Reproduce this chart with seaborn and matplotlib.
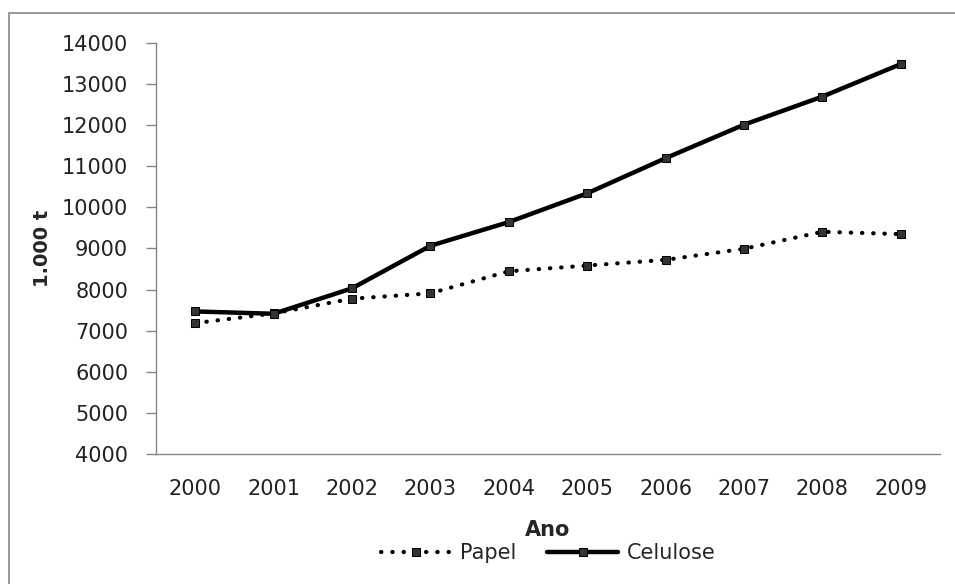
import matplotlib
matplotlib.use("Agg")
import matplotlib.pyplot as plt
import matplotlib.patches as mpatches
import seaborn as sns
import pandas as pd
import numpy as np

# data (1.000 t)
anos = ["2000", "2001", "2002", "2003", "2004", "2005", "2006", "2007", "2008", "2009"]
papel = [7185, 7420, 7779, 7909, 8446, 8585, 8724, 8993, 9408, 9350]
celulose = [7469, 7412, 8031, 9066, 9643, 10343, 11198, 12012, 12696, 13487]
yticks = list(range(4000, 14001, 1000))

df = pd.DataFrame({"Ano": anos, "Papel": papel, "Celulose": celulose})

sns.set_style("white")
plt.rcParams["font.family"] = ["DejaVu Sans"]
plt.rcParams["font.size"] = 15

fig = plt.figure(figsize=(9.55, 5.84), dpi=100)
ax = fig.add_axes([156 / 955, 1 - 454 / 584, 784 / 955, 411 / 584])

# outer chart border
fig.patches.append(mpatches.Rectangle((9 / 955, -1), 2, 1 - 13 / 584 + 1,
                                      transform=fig.transFigure, fill=False,
                                      edgecolor="#868686", linewidth=1.2))

sns.lineplot(data=df, x="Ano", y="Papel", ax=ax, color="black", linewidth=3,
             linestyle=(0, (0.1, 2.6)), dash_capstyle="round", marker="s",
             markersize=6, markerfacecolor="#333333", markeredgecolor="black",
             label="Papel")
ax.lines[-1].set_dash_capstyle("round")
sns.lineplot(data=df, x="Ano", y="Celulose", ax=ax, color="black", linewidth=3.2,
             marker="s", markersize=6, markerfacecolor="#333333",
             markeredgecolor="black", label="Celulose")

ax.set_xlim(-0.5, len(anos) - 0.5)
ax.set_ylim(4000, 14000)
ax.set_yticks(yticks)
ax.set_xticks(range(len(anos)))
ax.set_xticklabels(anos)
ax.set_xticks(np.arange(-0.5, len(anos)), minor=True)
ax.tick_params(axis="x", which="major", length=0, pad=18, labelsize=15, colors="#222222")
ax.tick_params(axis="x", which="minor", length=7, width=1, color="#868686", direction="out")
ax.tick_params(axis="y", length=7, width=1, color="#868686", direction="out",
               pad=13, labelsize=15, labelcolor="#222222", left=True)

for s in ["top", "right"]:
    ax.spines[s].set_visible(False)
for s in ["left", "bottom"]:
    ax.spines[s].set_color("#868686")
    ax.spines[s].set_linewidth(1)

ax.set_xlabel("Ano", fontsize=15, fontweight="bold")
ax.set_ylabel("1.000 t", fontsize=14, fontweight="bold")
ax.xaxis.label.set_va("center")
ax.xaxis.set_label_coords(0.5, -0.185)
ax.yaxis.label.set_va("center")
ax.yaxis.set_label_coords(-0.1454, 0.5)

ax.legend(loc="center", bbox_to_anchor=(548 / 955, 1 - 553 / 584),
          bbox_transform=fig.transFigure, ncol=2, frameon=False, fontsize=15,
          handlelength=3.4, handletextpad=0.4, columnspacing=1.5)

fig.savefig("out.png", dpi=100)
